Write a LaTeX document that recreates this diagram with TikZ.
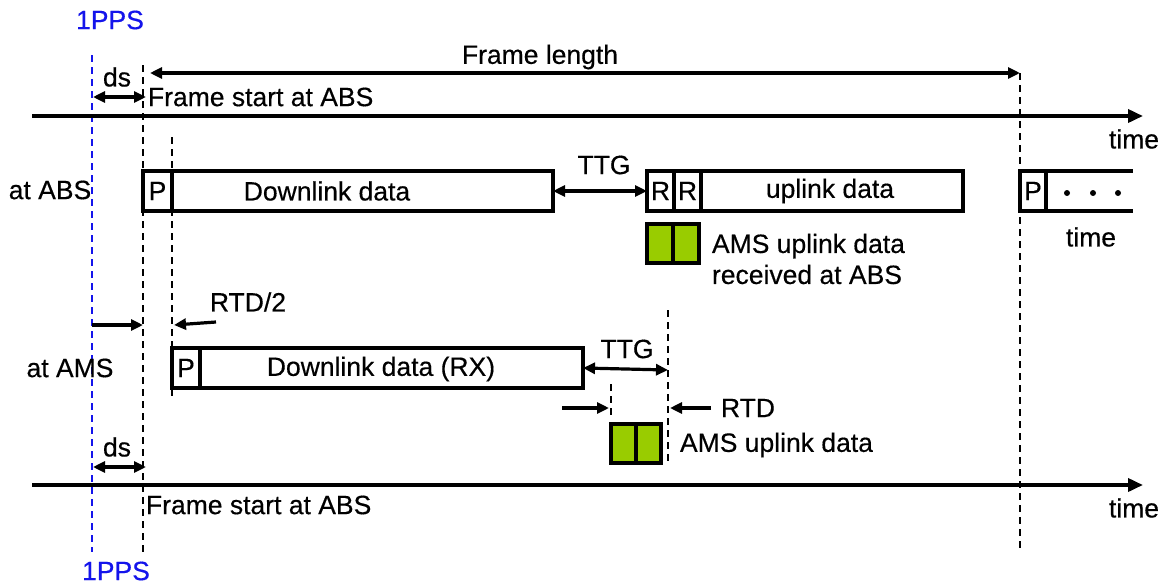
\documentclass[tikz,border=0pt]{standalone}
\usepackage{fontspec}
\setmainfont[FakeBold=0.4,AutoFakeBold=0.4]{Liberation Sans}
\usetikzlibrary{arrows.meta}
\definecolor{ulgreen}{RGB}{153,204,0}
\definecolor{ppsblue}{RGB}{20,20,235}
\begin{document}
\begin{tikzpicture}[x=1pt,y=-1pt,
  every node/.style={font=\fontsize{26.5}{31}\selectfont, inner sep=0pt, outer sep=0pt},
  seg/.style={draw, line width=3.6pt, anchor=north west, minimum height=40pt},
  ulbox/.style={draw, line width=3.6pt, fill=ulgreen, anchor=north west, minimum width=26pt, minimum height=39pt},
  axis/.style={line width=3.6pt, -{Triangle[length=15pt,width=13pt]}},
  dim/.style={line width=3.2pt, {Triangle[length=12pt,width=11pt]}-{Triangle[length=12pt,width=11pt]}},
  tick/.style={line width=3.2pt, -{Triangle[length=12pt,width=11pt]}},
  guide/.style={line width=2.4pt, dash pattern=on 7pt off 5pt},
  ppsline/.style={guide, ppsblue},
  lbl/.style={anchor=center},
  lbll/.style={anchor=west}
]
\useasboundingbox (0,0) rectangle (1163,584);

% reference instants
\coordinate (ppsT) at (92,55);   \coordinate (ppsB) at (92,552);
\coordinate (fsT)  at (143,65);  \coordinate (fsB)  at (143,552);
\coordinate (dlT)  at (172,137); \coordinate (dlB)  at (172,397);
\coordinate (nfT)  at (1020,73); \coordinate (nfB)  at (1020,552);
\coordinate (ttgT) at (668,310); \coordinate (ttgB) at (668,462);
\coordinate (ulT)  at (611,384); \coordinate (ulB)  at (611,416);

% 1PPS marks and frame-boundary guides
\draw[ppsline] (ppsT) -- (ppsB);
\node[lbl, text=ppsblue] (ppsTop) at (110,20) {1PPS};
\node[lbl, text=ppsblue] (ppsBot) at (116,571) {1PPS};
\draw[guide] (fsT) -- (fsB);
\draw[guide] (dlT) -- (dlB);
\draw[guide] (nfT) -- (nfB);
\draw[guide] (ttgT) -- (ttgB);
\draw[guide] (ulT) -- (ulB);

% time axes
\coordinate (axTa) at (32,116);  \coordinate (axTb) at (1143,116);
\coordinate (axBa) at (32,485);  \coordinate (axBb) at (1143,485);
\draw[axis] (axTa) -- (axTb);
\draw[axis] (axBa) -- (axBb);
\node[lbl] (timeT) at (1134,139) {time};
\node[lbl] (timeB) at (1134,508) {time};

% frame length
\coordinate (flA) at (150,73); \coordinate (flB) at (1020,73);
\draw[dim] (flA) -- (flB);
\node[lbl] (flen) at (540,57) {Frame length};

% ds offsets
\coordinate (dsTa) at (93,97);  \coordinate (dsTb) at (146,97);
\draw[dim] (dsTa) -- (dsTb);
\node[lbl] (dsT) at (117,77) {ds};
\node[lbll] (fsTop) at (148,97) {Frame start at ABS};
\coordinate (dsBa) at (93,467); \coordinate (dsBb) at (146,467);
\draw[dim] (dsBa) -- (dsBb);
\node[lbl] (dsB) at (117,447) {ds};
\node[lbll] (fsBot) at (146,505) {Frame start at ABS};

% ---- ABS frame ----
\node[lbl] (atABS) at (50,190) {at ABS};
\node[seg, minimum width=29pt] (pA) at (143,171) {P};
\node[seg, minimum width=381pt] (dlA) at (172,171) {};
\node[lbl] (dlAtxt) at (327,191) {Downlink data};
\node[seg, minimum width=27pt] (r1) at (647,171) {R};
\node[seg, minimum width=27pt] (r2) at (674,171) {R};
\node[seg, minimum width=262pt] (ulA) at (701,171) {};
\node[lbl] (ulAtxt) at (830,191) {uplink data};
\draw[dim] (dlA.east) -- (r1.west);
\node[lbl] (ttgA) at (604,165) {TTG};

% next frame
\node[seg, minimum width=26pt] (pN) at (1020,171) {P};
\coordinate (nxT) at (1133,171); \coordinate (nxB) at (1133,211);
\draw[line width=3.6pt] (pN.north east) -- (nxT);
\draw[line width=3.6pt] (pN.south east) -- (nxB);
\foreach \i/\xx in {1/1067,2/1093,3/1118}
  \fill (\xx,193) circle (3pt) coordinate (dot\i);
\node[lbl] (timeN) at (1091,237) {time};

% uplink bursts received at ABS
\node[ulbox] (gA1) at (647,224) {};
\node[ulbox] (gA2) at (673,224) {};
\node[lbll, align=left] (gAtxt) at (712,259) {AMS uplink data\\received at ABS};

% ---- AMS frame ----
\node[lbl] (atAMS) at (70,368) {at AMS};
\coordinate (ofsA) at (92,325); \coordinate (ofsB) at (143,325);
\draw[tick] (ofsA) -- (ofsB);
\coordinate (rtd2a) at (216,322); \coordinate (rtd2b) at (174,325);
\draw[tick] (rtd2a) -- (rtd2b);
\node[lbl] (rtd2) at (248,302) {RTD/2};

\node[seg, minimum width=28pt] (pM) at (172,348) {P};
\node[seg, minimum width=383pt] (dlM) at (200,348) {};
\node[lbl] (dlMtxt) at (381,369) {Downlink data (RX)};
\coordinate (ttgE) at (668,370);
\draw[dim] (dlM.east) -- (ttgE);
\node[lbl] (ttgM) at (627,349) {TTG};

\coordinate (rtdLa) at (562,408); \coordinate (rtdLb) at (609,408);
\coordinate (rtdRa) at (711,408); \coordinate (rtdRb) at (670,408);
\draw[tick] (rtdLa) -- (rtdLb);
\draw[tick] (rtdRa) -- (rtdRb);
\node[lbl] (rtd) at (748,408) {RTD};

\node[ulbox, minimum width=25pt] (gM1) at (611,424) {};
\node[ulbox, minimum width=25pt] (gM2) at (636,424) {};
\node[lbll] (gMtxt) at (680,445) {AMS uplink data};
\end{tikzpicture}
\end{document}
